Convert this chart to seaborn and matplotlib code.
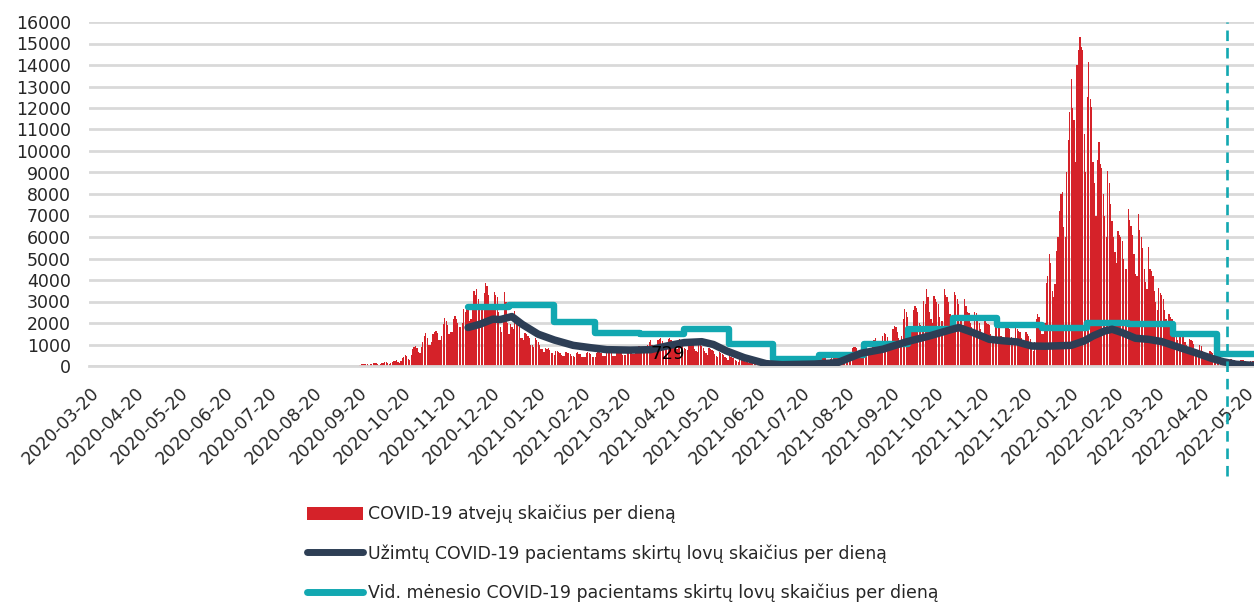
import numpy as np
import pandas as pd
import matplotlib
matplotlib.use("Agg")
import matplotlib.pyplot as plt
import matplotlib.dates as mdates
from matplotlib.lines import Line2D
from matplotlib.patches import Patch
import seaborn as sns

# daily COVID-19 cases, one row per week (Mon..Sun), first day 2020-09-21
cases_start = "2020-09-21"
cases_weeks = [
    [60, 80, 100, 90, 110, 70, 40],
    [70, 110, 130, 120, 140, 100, 60],
    [80, 150, 160, 180, 190, 130, 90],
    [120, 200, 230, 250, 260, 180, 150],
    [250, 350, 420, 500, 480, 330, 300],
    [500, 800, 900, 930, 850, 650, 600],
    [900, 1100, 1400, 1550, 1300, 1000, 1000],
    [1100, 1500, 1600, 1650, 1550, 1200, 1200],
    [1400, 1940, 2250, 2100, 1900, 1500, 1600],
    [1600, 2200, 2330, 2200, 2000, 1800, 1800],
    [2000, 2640, 2500, 2700, 2600, 2100, 2200],
    [2600, 3500, 3300, 3570, 3100, 2600, 2700],
    [2700, 3400, 3880, 3700, 3300, 2800, 2900],
    [2800, 3420, 3300, 3200, 2500, 1800, 1600],
    [2200, 3420, 3000, 2000, 1500, 1970, 1800],
    [1700, 2560, 2260, 2100, 1800, 1300, 1300],
    [1200, 1550, 1500, 1400, 1320, 1000, 1000],
    [900, 1300, 1200, 1100, 1000, 800, 800],
    [650, 850, 800, 850, 750, 600, 600],
    [500, 700, 680, 650, 620, 500, 480],
    [450, 650, 620, 600, 580, 450, 450],
    [420, 600, 640, 580, 560, 420, 420],
    [420, 620, 650, 600, 550, 430, 430],
    [430, 620, 680, 640, 600, 450, 450],
    [450, 650, 700, 660, 620, 470, 470],
    [470, 680, 720, 700, 650, 500, 500],
    [520, 750, 800, 780, 720, 560, 560],
    [600, 900, 950, 900, 850, 650, 650],
    [600, 1000, 1100, 1200, 1000, 800, 750],
    [800, 1200, 1250, 1300, 1150, 900, 850],
    [800, 1250, 1300, 1200, 1100, 900, 850],
    [800, 1200, 1250, 1150, 1050, 850, 800],
    [750, 1150, 1200, 1100, 1000, 800, 700],
    [650, 1050, 1000, 950, 850, 700, 600],
    [500, 850, 800, 750, 700, 550, 480],
    [400, 650, 600, 550, 500, 400, 350],
    [280, 450, 400, 380, 350, 280, 250],
    [200, 320, 300, 280, 250, 200, 180],
    [120, 180, 170, 160, 150, 120, 100],
    [70, 110, 100, 100, 90, 70, 60],
    [50, 80, 70, 70, 60, 50, 40],
    [40, 70, 60, 60, 60, 50, 40],
    [50, 80, 90, 90, 80, 60, 60],
    [80, 120, 140, 150, 130, 100, 100],
    [150, 220, 250, 260, 240, 180, 180],
    [220, 350, 400, 420, 380, 300, 300],
    [320, 500, 550, 600, 520, 400, 400],
    [400, 600, 620, 650, 600, 450, 450],
    [500, 850, 900, 900, 850, 650, 600],
    [650, 1000, 1050, 1000, 950, 750, 700],
    [700, 1100, 1200, 1300, 1150, 900, 800],
    [850, 1400, 1550, 1500, 1350, 1100, 1000],
    [1100, 1700, 1860, 1800, 1600, 1300, 1200],
    [1400, 2200, 2640, 2500, 2300, 1800, 1700],
    [1700, 2600, 2800, 2700, 2500, 2000, 1900],
    [1800, 3030, 2900, 3580, 3200, 2500, 2200],
    [2000, 3270, 3100, 3000, 2900, 2300, 2100],
    [2100, 3600, 3300, 3200, 3000, 2400, 2200],
    [2100, 3420, 3300, 3110, 2900, 2300, 2100],
    [1900, 3100, 2800, 2500, 2480, 2000, 1800],
    [1600, 2500, 2450, 2300, 2020, 1700, 1500],
    [1400, 2100, 2020, 1950, 1900, 1500, 1300],
    [1300, 1900, 1860, 1800, 1750, 1400, 1200],
    [1200, 1800, 1860, 1750, 1700, 1350, 1150],
    [1150, 1750, 1700, 1650, 1600, 1300, 1100],
    [1000, 1600, 1500, 1400, 1240, 800, 700],
    [1100, 2170, 2400, 2300, 2000, 1500, 1500],
    [2000, 3880, 4200, 5200, 4800, 3500, 3200],
    [3800, 5360, 6000, 7200, 8000, 8100, 6450],
    [6000, 9000, 10500, 11810, 13370, 12000, 11420],
    [9500, 14000, 14690, 15300, 14840, 14700, 10800],
    [9000, 12500, 14140, 12430, 12040, 9500, 8500],
    [7000, 9560, 10410, 9400, 9200, 8000, 7000],
    [6000, 9090, 8500, 7530, 6760, 6000, 5300],
    [4800, 6290, 6100, 6000, 5800, 5000, 4500],
    [4500, 7300, 6800, 6500, 6100, 5200, 4300],
    [4200, 7070, 6330, 6000, 5500, 4500, 3900],
    [3600, 5520, 4510, 4400, 4200, 3500, 3000],
    [2600, 3650, 3400, 3300, 3100, 2600, 2200],
    [1800, 2410, 2300, 2200, 1860, 1600, 1400],
    [1200, 1600, 1550, 1500, 1450, 1100, 1000],
    [850, 1240, 1200, 1150, 1010, 800, 750],
    [600, 1000, 950, 680, 650, 550, 500],
    [420, 700, 650, 600, 550, 450, 380],
    [300, 400, 370, 360, 340, 280, 250],
    [230, 340, 320, 300, 290, 230, 200],
    [200, 300, 280, 270, 250, 200, 180],
    [170, 250, 240, 230],
]

# occupied COVID-19 beds (read at these dates)
beds_dates = [
    "2020-12-04", "2020-12-12", "2020-12-21", "2020-12-26", "2021-01-03", "2021-01-10",
    "2021-01-21", "2021-02-01", "2021-02-14", "2021-02-26", "2021-03-09", "2021-03-25",
    "2021-04-08", "2021-04-19", "2021-05-01", "2021-05-13", "2021-05-21", "2021-05-30",
    "2021-06-11", "2021-06-26", "2021-07-07", "2021-07-29", "2021-08-14", "2021-08-30",
    "2021-09-14", "2021-09-30", "2021-10-16", "2021-10-30", "2021-11-05", "2021-11-15",
    "2021-11-26", "2021-12-06", "2021-12-15", "2021-12-25", "2022-01-03", "2022-01-21",
    "2022-01-30", "2022-02-05", "2022-02-13", "2022-02-18", "2022-02-25", "2022-03-06",
    "2022-03-15", "2022-03-24", "2022-04-02", "2022-04-16", "2022-04-27", "2022-05-05",
    "2022-05-14", "2022-05-26",
]
beds_values = [
    1790, 1940, 2180, 2160, 2300, 1940,
    1480, 1210, 960, 850, 760, 740,
    760, 930, 1090, 1130, 1000, 700,
    390, 110, 60, 90, 155, 590,
    780, 1120, 1400, 1680, 1790, 1550,
    1240, 1170, 1120, 930, 920, 960,
    1170, 1400, 1630, 1710, 1550, 1290,
    1240, 1135, 930, 620, 360, 200,
    80, 30,
]

# monthly average of occupied beds
month_starts = [
    "2020-12-04", "2021-01-01", "2021-02-01", "2021-03-01", "2021-04-01", "2021-05-01",
    "2021-06-01", "2021-07-01", "2021-08-01", "2021-09-01", "2021-10-01", "2021-11-01",
    "2021-12-01", "2022-01-01", "2022-02-01", "2022-03-01", "2022-04-01", "2022-05-01",
    "2022-05-31",
]
month_avg = [
    2730, 2840, 2060, 1540, 1490, 1700,
    1030, 330, 530, 1010, 1710, 2210,
    1900, 1790, 2020, 1975, 1480, 575,
    575,
]

annot_date = "2021-04-08"
annot_value = 729
marker_date = "2022-05-08"

label_cases = "COVID-19 atvejų skaičius per dieną"
label_beds = "Užimtų COVID-19 pacientams skirtų lovų skaičius per dieną"
label_avg = "Vid. mėnesio COVID-19 pacientams skirtų lovų skaičius per dieną"

red = "#d52229"
navy = "#2d3e55"
teal = "#12a8b1"
grid = "#d9d9d9"

cases = [v for w in cases_weeks for v in w]
df_cases = pd.DataFrame({
    "date": pd.date_range(cases_start, periods=len(cases), freq="D"),
    "cases": cases,
})
df_cases["x"] = mdates.date2num(df_cases["date"])
df_beds = pd.DataFrame({"x": mdates.date2num(pd.to_datetime(beds_dates)), "beds": beds_values})
df_avg = pd.DataFrame({"x": mdates.date2num(pd.to_datetime(month_starts)), "avg": month_avg})

sns.set_style("white")
plt.rcParams["font.family"] = ["DejaVu Sans"]

fig = plt.figure(figsize=(12.54, 6.04), dpi=100)
ax = fig.add_axes([89 / 1254, 238 / 604, 1165 / 1254, 344 / 604])

sns.barplot(data=df_cases, x="x", y="cases", native_scale=True, color=red,
            errorbar=None, linewidth=0, width=0.85, saturation=1, ax=ax, zorder=2)
sns.lineplot(data=df_avg, x="x", y="avg", color=teal, linewidth=4.6,
             drawstyle="steps-post", ax=ax, zorder=3)
sns.lineplot(data=df_beds, x="x", y="beds", color=navy, linewidth=5.4,
             solid_capstyle="round", solid_joinstyle="round", ax=ax, zorder=4)

ax.annotate(str(annot_value), xy=(mdates.date2num(pd.Timestamp(annot_date)), annot_value),
            xytext=(0, -2.5), textcoords="offset points", ha="left", va="center",
            fontsize=13, color="black", zorder=6)

mx = mdates.date2num(pd.Timestamp(marker_date))
ax.axvline(mx, ymin=-0.32, ymax=1.0, color=teal, linestyle=(0, (4, 2.6)),
           linewidth=1.9, clip_on=False, zorder=5)

x0 = mdates.date2num(pd.Timestamp("2020-03-20"))
ax.set_xlim(x0 - 0.6, x0 + 797.2)
ax.set_ylim(0, 16000)

ticks = pd.date_range("2020-03-01", "2022-05-20", freq="MS") + pd.Timedelta(days=19)
ax.set_xticks(mdates.date2num(ticks))
ax.set_xticklabels([t.strftime("%Y-%m-%d") for t in ticks], rotation=45, ha="right",
                   rotation_mode="anchor", fontsize=12.5)
ax.set_yticks(np.arange(0, 16001, 1000))
ax.set_yticklabels([str(v) for v in range(0, 16001, 1000)], fontsize=12.5)
ax.tick_params(axis="x", length=7, width=1.5, color=grid, pad=6)
ax.tick_params(axis="y", length=0, pad=13)
ax.yaxis.grid(True, color=grid, linewidth=2)
ax.set_axisbelow(True)
for s in ["top", "right", "left"]:
    ax.spines[s].set_visible(False)
ax.spines["bottom"].set_color(grid)
ax.spines["bottom"].set_linewidth(2)
ax.set_xlabel("")
ax.set_ylabel("")
if ax.get_legend() is not None:
    ax.get_legend().remove()

handles = [
    Patch(facecolor=red, edgecolor="none"),
    Line2D([0], [0], color=navy, linewidth=5, solid_capstyle="round"),
    Line2D([0], [0], color=teal, linewidth=5, solid_capstyle="round"),
]
fig.legend(handles, [label_cases, label_beds, label_avg], loc="upper left",
           bbox_to_anchor=(300 / 1254, 1 - 498 / 604), frameon=False, fontsize=12.5,
           handlelength=3.2, handleheight=0.8, handletextpad=0.3, labelspacing=1.2,
           borderaxespad=0)

fig.savefig("out.png", dpi=100)
